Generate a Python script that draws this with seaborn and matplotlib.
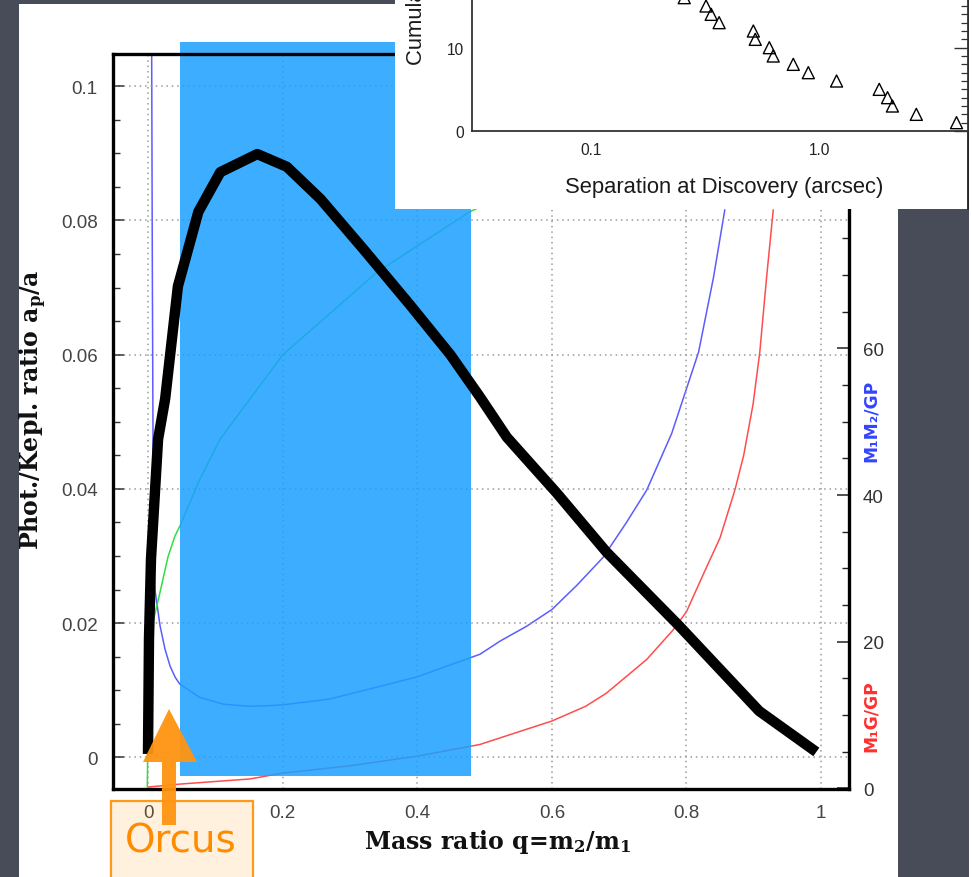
import numpy as np
import matplotlib
matplotlib.use("Agg")
import matplotlib.pyplot as plt
import seaborn as sns
from matplotlib.patches import Rectangle, Polygon
from matplotlib.lines import Line2D
from matplotlib.ticker import (MultipleLocator, FixedLocator, FixedFormatter,
                               LogLocator, NullFormatter)

# ---------------- data ----------------
# thick black hand-drawn curve: photocentre / Keplerian ratio a_p/a vs q
q_phot = [-0.0005, 0.001, 0.004, 0.0145, 0.025, 0.044, 0.0744, 0.107, 0.162,
          0.206, 0.256, 0.320, 0.390, 0.449, 0.493, 0.533, 0.607, 0.681, 0.789,
          0.908, 0.993]
ratio_phot = [0.0005, 0.0177, 0.0296, 0.0474, 0.0534, 0.0702, 0.0813, 0.0872,
              0.0899, 0.0880, 0.0832, 0.0757, 0.0673, 0.0600, 0.0537, 0.0477,
              0.0394, 0.0306, 0.0196, 0.0069, 0.0008]

# thin green curve (left axis)
q_green = [-0.0015, -0.001, 0.0, 0.0025, 0.007, 0.0174, 0.0293, 0.0397, 0.0471,
           0.0769, 0.1066, 0.2, 0.340, 0.478, 0.493]
y_green = [-0.0044, 0.0, 0.0072, 0.0146, 0.0202, 0.0246, 0.0299, 0.0330, 0.0345,
           0.0415, 0.0474, 0.0600, 0.0723, 0.0813, 0.0820]

# blue curve M1M2/GP (right axis)
q_m1m2 = [0.005, 0.006, 0.007, 0.0074, 0.010, 0.0174, 0.0248, 0.0323, 0.0397,
          0.0471, 0.0769, 0.111, 0.151, 0.181, 0.2, 0.270, 0.399, 0.493, 0.523,
          0.562, 0.600, 0.637, 0.676, 0.711, 0.741, 0.778, 0.800, 0.818,
          0.840, 0.857]
v_m1m2 = [100.1, 70.0, 47.6, 31.3, 27.0, 22.2, 19.0, 16.7, 15.2, 14.2, 12.4,
          11.5, 11.2, 11.3, 11.4, 12.2, 15.2, 18.3, 20.1, 22.1, 24.4, 27.7,
          31.5, 36.3, 40.7, 48.4, 54.5, 59.5, 69.6, 78.9]

# red curve M1G/GP (right axis)
q_m1g = [0.0, 0.047, 0.151, 0.2, 0.3, 0.399, 0.493, 0.543, 0.600, 0.650, 0.681,
         0.741, 0.780, 0.800, 0.825, 0.850, 0.872, 0.885, 0.899, 0.909, 0.919,
         0.929]
v_m1g = [0.2, 0.6, 1.3, 2.1, 3.1, 4.4, 6.0, 7.5, 9.2, 11.2, 13.0, 17.6, 21.6,
         24.1, 29.2, 34.2, 40.7, 45.4, 52.4, 59.5, 69.6, 78.9]

# inset: cumulative number vs separation at discovery
sep_arcsec = [3.99, 2.66, 2.09, 1.99, 1.83, 1.19, 0.895, 0.769, 0.628, 0.604,
              0.524, 0.514, 0.364, 0.336, 0.319, 0.256]
cum_count = [1, 2, 3, 4, 5, 6, 7, 8, 9, 10, 11, 12, 13, 14, 15, 16]

x_ticks = [0, 0.2, 0.4, 0.6, 0.8, 1.0]
x_ticklabels = ["0", "0.2", "0.4", "0.6", "0.8", "1"]
left_ticks = [0, 0.02, 0.04, 0.06, 0.08, 0.1]
left_ticklabels = ["0", "0.02", "0.04", "0.06", "0.08", "0.1"]
right_ticks = [0, 20, 40, 60, 80, 100]
right_ticklabels = ["0", "20", "40", "60", "80", "100"]
inset_xticks = [0.1, 1.0]
inset_xticklabels = ["0.1", "1.0"]

# ---------------- style ----------------
sns.set_theme(style="white")
plt.rcParams["font.family"] = ["Liberation Sans", "DejaVu Sans"]
plt.rcParams["mathtext.fontset"] = "dejavuserif"

W, H = 972, 878
BG = "#474c58"
fig = plt.figure(figsize=(W / 100, H / 100), dpi=100, facecolor=BG)


def fx(px):
    return px / W


def fy(py):
    return 1 - py / H


def box(l, t, r, b):
    return [fx(l), fy(b), (r - l) / W, (b - t) / H]


# slide panels
fig.add_artist(Rectangle((fx(19), 0), (898 - 19) / W, (H - 5) / H,
                         transform=fig.transFigure, fc="white", ec="none", zorder=-1))
fig.add_artist(Rectangle((fx(969), 0), 3 / W, 1, transform=fig.transFigure,
                         fc="white", ec="none", zorder=-1))

# ---------------- main axes ----------------
ax = fig.add_axes(box(113, 55, 849, 790))
ax2 = ax.twinx()
ax.set_zorder(1)
ax2.set_zorder(0)
ax.patch.set_visible(False)
ax2.patch.set_visible(False)

sns.lineplot(x=q_m1m2, y=v_m1m2, ax=ax2, color="#5c5cff", linewidth=1.1,
             estimator=None, sort=False)
sns.lineplot(x=q_m1g, y=v_m1g, ax=ax2, color="#ff4d4d", linewidth=1.1,
             estimator=None, sort=False)
sns.lineplot(x=q_green, y=y_green, ax=ax, color="#33dd44", linewidth=1.1,
             estimator=None, sort=False, zorder=2)

ax.set_xlim(-0.0525, 1.0416)
ax.set_ylim(-0.00472, 0.10481)
ax2.set_ylim(-0.07, 100.14)

# overlay highlight rectangle (slide annotation)
ax.add_patch(Rectangle((0.0471, -0.00279), 0.4797 - 0.0471, 0.1066 + 0.00279,
                       fc=(27 / 255, 160 / 255, 1.0), alpha=0.85, ec="none",
                       zorder=2.4, clip_on=False))

sns.lineplot(x=q_phot, y=ratio_phot, ax=ax, color="black", linewidth=7.5,
             estimator=None, sort=False, zorder=3, solid_capstyle="butt")

ax.set_xlabel("")
ax.set_ylabel("")
ax2.set_ylabel("")

ax.xaxis.set_major_locator(FixedLocator(x_ticks))
ax.xaxis.set_major_formatter(FixedFormatter(x_ticklabels))
ax.xaxis.set_minor_locator(MultipleLocator(0.05))
ax.yaxis.set_major_locator(FixedLocator(left_ticks))
ax.yaxis.set_major_formatter(FixedFormatter(left_ticklabels))
ax.yaxis.set_minor_locator(MultipleLocator(0.005))
ax2.yaxis.set_major_locator(FixedLocator(right_ticks))
ax2.yaxis.set_major_formatter(FixedFormatter(right_ticklabels))
ax2.yaxis.set_minor_locator(MultipleLocator(5))

ax.tick_params(axis="both", which="both", direction="in", top=False, right=False,
               color="#333333", labelcolor="#444444", labelsize=13.5, pad=11)
ax.tick_params(which="major", length=8, width=1.1)
ax.tick_params(which="minor", length=5, width=1.0)
ax2.tick_params(axis="y", which="both", direction="in", color="#222222",
                labelcolor="#333333", labelsize=13.5, pad=10)
ax2.tick_params(which="major", length=9, width=1.1)
ax2.tick_params(which="minor", length=5, width=1.0)

ax.grid(True, which="major", color="#9a9a9a", linestyle=(0, (1, 2.5)), linewidth=1.1)
ax.set_axisbelow(True)
ax2.grid(False)
for s in ax.spines.values():
    s.set_visible(True)
    s.set_color("black")
    s.set_linewidth(2.4)
    s.set_zorder(2.5)
for s in ax2.spines.values():
    s.set_visible(False)

# axis titles
fig.text(fx(498), fy(842), r"Mass ratio q=m$_\mathbf{2}$/m$_\mathbf{1}$",
         family="DejaVu Serif", weight="bold", fontsize=17, color="#111111",
         ha="center", va="center")
fig.text(fx(33), fy(410), r"Phot./Kepl. ratio $\mathbf{a_p}$/a",
         family="DejaVu Serif", weight="bold", fontsize=17, color="#111111",
         rotation=90, ha="center", va="center")
fig.text(fx(871), fy(421), "M₁M₂/GP", family="DejaVu Sans", weight="bold",
         fontsize=12.3, color="#3344ff", rotation=90, ha="center", va="center")
fig.text(fx(871), fy(716), "M₁G/GP", family="DejaVu Sans", weight="bold",
         fontsize=12.3, color="#ff3030", rotation=90, ha="center", va="center")

# ---------------- inset panel (top right) ----------------
fig.add_artist(Rectangle((fx(395), fy(210)), (968 - 395) / W, 210 / H,
                         transform=fig.transFigure, fc="white", ec="none", zorder=5))
fig.add_artist(Line2D([fx(968), fx(968)], [fy(0), fy(210)], transform=fig.transFigure,
                      color="#222222", linewidth=1.3, zorder=6))

axi = fig.add_axes(box(472, -68, 968, 132))
axi.set_zorder(6)
axi.set_facecolor("white")
sns.scatterplot(x=sep_arcsec, y=cum_count, ax=axi, marker="^", s=75,
                facecolor="none", edgecolor="black", linewidth=1.0)
axi.set_xscale("log")
axi.set_xlim(0.0301, 4.48)
axi.set_ylim(0, 24)
axi.set_xlabel("")
axi.set_ylabel("")
axi.xaxis.set_major_locator(FixedLocator(inset_xticks))
axi.xaxis.set_major_formatter(FixedFormatter(inset_xticklabels))
axi.xaxis.set_minor_locator(LogLocator(base=10, subs=np.arange(2, 10)))
axi.xaxis.set_minor_formatter(NullFormatter())
axi.yaxis.set_major_locator(MultipleLocator(10))
axi.yaxis.set_minor_locator(MultipleLocator(1))
axi.tick_params(axis="both", which="both", direction="in", top=False, right=True,
                color="#333333", labelcolor="#222222", labelsize=11.2)
axi.tick_params(axis="x", which="major", length=8, width=1.0, pad=8)
axi.tick_params(axis="x", which="minor", length=5, width=0.9)
axi.tick_params(axis="y", which="major", length=10, width=1.0, pad=6)
axi.tick_params(axis="y", which="minor", length=5, width=0.9)
for s in axi.spines.values():
    s.set_color("#333333")
    s.set_linewidth(1.3)
axi.grid(False)

fig.text(fx(724), fy(188), "Separation at Discovery (arcsec)", fontsize=15.8,
         color="#1a1a1a", ha="center", va="center", zorder=7)
fig.text(fx(416), fy(65), "Cumulative Number", fontsize=15.8, color="#1a1a1a",
         rotation=90, ha="center", va="bottom", zorder=7)

# ---------------- Orcus annotation ----------------
fig.add_artist(Rectangle((fx(111), fy(890)), (253 - 111) / W, (890 - 802) / H,
                         transform=fig.transFigure, fc=(1.0, 0.6, 0.0, 0.13),
                         ec=(1.0, 0.6, 0.1, 1.0), linewidth=1.6, zorder=7))
arrow_px = [(162, 826), (176, 826), (176, 763), (197, 763), (169, 710),
            (143, 763), (162, 763)]
fig.add_artist(Polygon([(fx(a), fy(b)) for a, b in arrow_px], closed=True,
                       transform=fig.transFigure, fc="#ff9410", ec="none",
                       alpha=0.95, zorder=8))
fig.text(fx(181), fy(842), "Orcus", family="DejaVu Sans", fontsize=28,
         color="#ff8c00", ha="center", va="center", zorder=9)

fig.savefig("out.png", dpi=100, facecolor=BG)
